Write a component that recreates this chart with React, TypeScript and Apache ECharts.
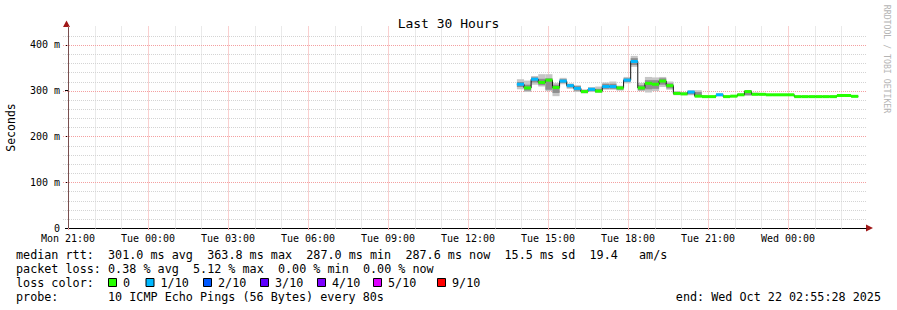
import React, { useEffect, useRef } from "react";
import * as echarts from "echarts";

const TITLE = "Last 30 Hours";
const Y_NAME = "Seconds";
const WATERMARK = "RRDTOOL / TOBI OETIKER";

// x axis: minutes since Mon 21:00
const X_MIN = -4.53;
const X_MAX = 1795.47;
const X_TICKS = [0, 180, 360, 540, 720, 900, 1080, 1260, 1440, 1620];
const X_LABELS = ["Mon 21:00", "Tue 00:00", "Tue 03:00", "Tue 06:00", "Tue 09:00", "Tue 12:00", "Tue 15:00", "Tue 18:00", "Tue 21:00", "Wed 00:00"];

// y axis: milliseconds
const Y_MAX = 438;
const Y_TICKS = [0, 100, 200, 300, 400];
const Y_LABELS = ["0", "100 m", "200 m", "300 m", "400 m"];

// 16-minute bins starting Tue 13:50
const BIN_START = 1010;
const BIN_MINUTES = 16;
const MEDIAN = [314, 306, 325, 318, 323, 307, 321, 311, 305, 298, 303, 299, 309, 309, 306, 323, 363.8, 306, 316, 314, 321, 311, 294, 293, 297, 288, 287, 287, 291, 287, 288, 291, 298, 292, 292, 291, 291, 291, 291, 287, 287, 287, 287, 287, 287, 289.5, 289.5, 287.6];
const LOSS = [1, 0, 1, 0, 0, 0, 1, 1, 1, 0, 1, 0, 1, 1, 0, 1, 1, 0, 0, 0, 0, 0, 0, 0, 1, 0, 0, 0, 1, 0, 0, 0, 0, 0, 0, 0, 0, 0, 0, 0, 0, 0, 0, 0, 0, 0, 0, 0];
const SMOKE_LO = [303, 297, 313, 309, 299, 288, 314, 304, 297, 294, 297, 295, 302, 302, 300, 316, 352, 299, 296, 299, 308, 302, 290, 290, 290, 286, 286, 286, 288, 286, 286, 289, 289, 290, 290, 289, 289, 289, 289, 286, 286, 286, 286, 286, 286, 288, 288, 286];
const SMOKE_Q1 = [308, 300, 318, 312, 302, 295, 317, 307, 300, 296, 299, 297, 304, 304, 302, 319, 356, 301, 303, 304, 313, 305, 292, 291, 292, 287, 286, 286, 289, 286, 287, 290, 290, 291, 291, 290, 290, 290, 290, 286, 286, 286, 286, 286, 286, 289, 289, 287];
const SMOKE_Q3 = [319, 313, 329, 326, 327, 313, 325, 314, 310, 301, 306, 304, 315, 315, 309, 327, 371, 312, 323, 323, 327, 316, 297, 295, 299, 297, 288, 288, 293, 288, 289, 293, 300, 294, 294, 292, 292, 292, 292, 288, 288, 288, 288, 288, 288, 290, 290, 288];
const SMOKE_HI = [325, 322, 332, 336, 336, 317, 328, 316, 312, 303, 308, 309, 318, 320, 311, 330, 376, 317, 330, 329, 330, 320, 299, 297, 301, 301, 289, 289, 294, 289, 290, 294, 301, 296, 295, 293, 293, 293, 293, 289, 289, 289, 289, 289, 289, 291, 291, 289];

const LOSS_LABELS = ["0", "1/10", "2/10", "3/10", "4/10", "5/10", "9/10"];
const LOSS_COLORS = ["#26ff00", "#00b8ff", "#0059ff", "#5e00ff", "#7e00ff", "#dd00ff", "#ff0000"];

const STAT_MEDIAN = ["median rtt:", "301.0 ms avg", "363.8 ms max", "287.0 ms min", "287.6 ms now", "15.5 ms sd", "19.4", "am/s"];
const STAT_MEDIAN_COLS = [0, 13, 27, 41, 55, 69, 81, 88];
const STAT_LOSS = ["packet loss:", "0.38 % avg", "5.12 % max", "0.00 % min", "0.00 % now"];
const STAT_LOSS_COLS = [0, 13, 25, 37, 49];
const LOSS_COLOR_TITLE = "loss color:";
const PROBE = ["probe:", "10 ICMP Echo Pings (56 Bytes) every 80s"];
const END_TEXT = "end: Wed Oct 22 02:55:28 2025";

const MONO = "'DejaVu Sans Mono', monospace";
const GRID_MINOR = "#d4d4d4";
const GRID_MAJOR = "#f4a0a0";
const ARROW = "#a01818";

export default function App() {
  const ref = useRef<HTMLDivElement>(null);

  useEffect(() => {
    if (!ref.current) return;
    const chart = echarts.init(ref.current, null, { renderer: "svg" });

    const bins = MEDIAN.map((m, i) => {
      const t0 = BIN_START + i * BIN_MINUTES;
      return { t0, t1: t0 + BIN_MINUTES, m, loss: LOSS[i], lo: SMOKE_LO[i], q1: SMOKE_Q1[i], q3: SMOKE_Q3[i], hi: SMOKE_HI[i] };
    });

    const vGrid: number[][] = [];
    for (let h = 0; h * 60 <= X_MAX; h++) {
      const v = h * 60;
      vGrid.push([v, X_TICKS.indexOf(v) >= 0 ? 1 : 0]);
    }
    const hGrid: number[][] = [];
    for (let v = 20; v < Y_MAX; v += 20) {
      hGrid.push([v, Y_TICKS.indexOf(v) >= 0 ? 1 : 0]);
    }

    const lineData: number[][] = bins.map((b) => [b.t0, b.m]);
    const last = bins[bins.length - 1];
    lineData.push([last.t1, last.m]);

    const CW = 7.08;
    const LX = 16;
    const graphics: any[] = [];
    STAT_MEDIAN.forEach((t, i) => graphics.push({ type: "text", x: LX + STAT_MEDIAN_COLS[i] * CW, y: 254.5, style: { text: t, font: `11.75px ${MONO}`, fill: "#000", textVerticalAlign: "middle" } }));
    STAT_LOSS.forEach((t, i) => graphics.push({ type: "text", x: LX + STAT_LOSS_COLS[i] * CW, y: 268.5, style: { text: t, font: `11.75px ${MONO}`, fill: "#000", textVerticalAlign: "middle" } }));
    graphics.push({ type: "text", x: LX, y: 282.5, style: { text: LOSS_COLOR_TITLE, font: `11.75px ${MONO}`, fill: "#000", textVerticalAlign: "middle" } });
    const sqX = [108, 145.5, 203, 260, 317, 373, 437];
    LOSS_LABELS.forEach((t, i) => {
      graphics.push({ type: "rect", shape: { x: sqX[i] + 0.5, y: 278.5, width: 8, height: 8 }, style: { fill: LOSS_COLORS[i], stroke: "#000", lineWidth: 1 } });
      graphics.push({ type: "text", x: sqX[i] + 15, y: 282.5, style: { text: t, font: `11.75px ${MONO}`, fill: "#000", textVerticalAlign: "middle" } });
    });
    graphics.push({ type: "text", x: LX, y: 296.5, style: { text: PROBE[0], font: `11.75px ${MONO}`, fill: "#000", textVerticalAlign: "middle" } });
    graphics.push({ type: "text", x: LX + 13 * CW, y: 296.5, style: { text: PROBE[1], font: `11.75px ${MONO}`, fill: "#000", textVerticalAlign: "middle" } });
    graphics.push({ type: "text", x: 881, y: 296.5, style: { text: END_TEXT, font: `11.75px ${MONO}`, fill: "#000", textAlign: "right", textVerticalAlign: "middle" } });
    graphics.push({ type: "text", x: 887, y: 59, rotation: -Math.PI / 2, style: { text: WATERMARK, font: `8.2px ${MONO}`, fill: "#b4b4b4", textAlign: "center", textVerticalAlign: "middle" } });
    graphics.push({ type: "text", x: 11, y: 127.5, rotation: Math.PI / 2, style: { text: Y_NAME, font: `11.5px ${MONO}`, fill: "#000", textAlign: "center", textVerticalAlign: "middle" } });
    // axis arrows
    graphics.push({ type: "polygon", shape: { points: [[63, 27], [70, 27], [66.5, 20.5]] }, style: { fill: ARROW } });
    graphics.push({ type: "polygon", shape: { points: [[866, 224.5], [866, 231.5], [873, 228]] }, style: { fill: ARROW } });

    const option: any = {
      animation: false,
      backgroundColor: "#ffffff",
      title: {
        text: TITLE,
        left: "center",
        top: 12,
        textStyle: { fontFamily: MONO, fontSize: 13, fontWeight: "normal", color: "#000" },
      },
      grid: { left: 66, top: 27.5, width: 800, height: 200.5, containLabel: false },
      xAxis: {
        type: "value",
        min: X_MIN,
        max: X_MAX,
        splitLine: { show: false },
        axisLine: { show: true, lineStyle: { color: "#000", width: 1 } },
        axisTick: { show: true, customValues: X_TICKS, length: 2, inside: false, lineStyle: { color: GRID_MAJOR } },
        axisLabel: {
          customValues: X_TICKS,
          margin: 5,
          fontFamily: MONO,
          fontSize: 10,
          color: "#000",
          formatter: (v: number) => X_LABELS[X_TICKS.indexOf(v)] ?? "",
        },
      },
      yAxis: {
        type: "value",
        min: 0,
        max: Y_MAX,
        splitLine: { show: false },
        axisLine: { show: true, lineStyle: { color: "#000", width: 1 } },
        axisTick: { show: true, customValues: Y_TICKS, length: 3, lineStyle: { color: "#000" } },
        axisLabel: {
          customValues: Y_TICKS,
          margin: 6,
          fontFamily: MONO,
          fontSize: 10,
          color: "#000",
          formatter: (v: number) => Y_LABELS[Y_TICKS.indexOf(v)] ?? "",
        },
      },
      graphic: graphics,
      series: [
        {
          type: "custom",
          name: "vgrid",
          z: 1,
          silent: true,
          encode: { x: 0 },
          data: vGrid,
          renderItem: (params: any, api: any) => {
            const cs = params.coordSys;
            const p = api.coord([api.value(0), 0]);
            const x = Math.round(p[0]) + 0.5;
            return {
              type: "line",
              shape: { x1: x, y1: cs.y - 1, x2: x, y2: cs.y + cs.height + 2 },
              style: { stroke: api.value(1) ? GRID_MAJOR : GRID_MINOR, lineWidth: 1, lineDash: [1, 1] },
            };
          },
        },
        {
          type: "custom",
          name: "hgrid",
          z: 1,
          silent: true,
          encode: { y: 0 },
          data: hGrid,
          renderItem: (params: any, api: any) => {
            const cs = params.coordSys;
            const p = api.coord([0, api.value(0)]);
            const y = Math.round(p[1]) + 0.5;
            return {
              type: "line",
              shape: { x1: cs.x - 3, y1: y, x2: cs.x + cs.width, y2: y },
              style: { stroke: api.value(1) ? GRID_MAJOR : GRID_MINOR, lineWidth: 1, lineDash: [1, 1] },
            };
          },
        },
        {
          type: "custom",
          name: "smoke",
          z: 2,
          silent: true,
          encode: { x: [0, 1], y: [2, 5] },
          data: bins.map((b) => [b.t0, b.t1, b.lo, b.q1, b.q3, b.hi]),
          renderItem: (params: any, api: any) => {
            const t0 = api.value(0), t1 = api.value(1);
            const a = api.coord([t0, api.value(5)]);
            const b = api.coord([t1, api.value(2)]);
            const c = api.coord([t0, api.value(4)]);
            const d = api.coord([t1, api.value(3)]);
            return {
              type: "group",
              children: [
                { type: "rect", shape: { x: a[0], y: a[1], width: b[0] - a[0], height: b[1] - a[1] }, style: { fill: "#c6c6c6" } },
                { type: "rect", shape: { x: c[0], y: c[1], width: d[0] - c[0], height: d[1] - c[1] }, style: { fill: "#8e8e8e" } },
              ],
            };
          },
        },
        {
          type: "line",
          name: "median",
          z: 3,
          step: "end",
          showSymbol: false,
          symbol: "none",
          data: lineData,
          lineStyle: { color: "#111", width: 1 },
          silent: true,
        },
        {
          type: "custom",
          name: "loss color",
          z: 4,
          silent: true,
          encode: { x: [0, 1], y: 2 },
          data: bins.map((b) => [b.t0, b.t1, b.m, b.loss]),
          renderItem: (params: any, api: any) => {
            const a = api.coord([api.value(0), api.value(2)]);
            const b = api.coord([api.value(1), api.value(2)]);
            return {
              type: "rect",
              shape: { x: a[0], y: a[1] - 1.5, width: b[0] - a[0], height: 3 },
              style: { fill: LOSS_COLORS[api.value(3)] },
            };
          },
        },
      ],
    };

    chart.setOption(option);
    return () => chart.dispose();
  }, []);

  return <div ref={ref} style={{ position: "fixed", left: 0, top: 0, width: 897, height: 310, background: "#fff" }} />;
}
